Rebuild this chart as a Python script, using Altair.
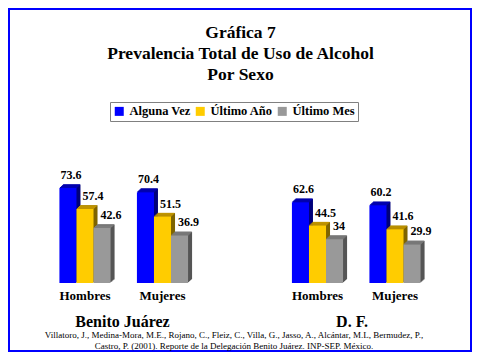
import altair as alt
import pandas as pd

# ---- data ----
regiones = ["Benito Juárez", "D. F."]
sexos = ["Hombres", "Mujeres"]
series = ["Alguna Vez", "Último Año", "Último Mes"]
bj_hombres = [73.6, 57.4, 42.6]
bj_mujeres = [70.4, 51.5, 36.9]
df_hombres = [62.6, 44.5, 34]
df_mujeres = [60.2, 41.6, 29.9]

titulo = ["Gráfica 7", "Prevalencia Total de Uso de Alcohol", "Por Sexo"]
cita = [
    "Villatoro, J., Medina-Mora, M.E., Rojano, C., Fleiz, C., Villa, G., Jasso, A., Alcántar, M.L, Bermudez, P.,",
    "Castro, P. (2001). Reporte de la Delegación Benito Juárez. INP-SEP. México.",
]

# ---- styles ----
frente = ["#0000FF", "#FFCC00", "#999999"]
tapa = ["#0000B4", "#C09400", "#7C7C7C"]
lateral = ["#00007A", "#7E6400", "#555555"]
FONT = "'Liberation Serif', 'Times New Roman', Times, serif"

valores = {
    (regiones[0], sexos[0]): bj_hombres,
    (regiones[0], sexos[1]): bj_mujeres,
    (regiones[1], sexos[0]): df_hombres,
    (regiones[1], sexos[1]): df_mujeres,
}
rows = []
for (reg, sx), vals in valores.items():
    for s, v in zip(series, vals):
        rows.append({"region": reg, "sexo": sx, "serie": s, "valor": v, "grupo": reg + "|" + sx})
data = pd.DataFrame(rows)

dominio_x = [regiones[0] + "|" + sexos[0], regiones[0] + "|" + sexos[1], " ",
             regiones[1] + "|" + sexos[0], regiones[1] + "|" + sexos[1]]

STEP = 77.5
GW = STEP * 0.66          # group width
BW = GW / 3               # bar width
X = alt.X("grupo:N", scale=alt.Scale(type="band", domain=dominio_x, range=[38.25, 38.25 + 5 * STEP],
                                      paddingInner=0.34, paddingOuter=0.17), axis=None)


def XO(shift=0.0):
    return alt.XOffset("serie:N", scale=alt.Scale(type="band", domain=series, range=[shift, GW + shift],
                                                   paddingInner=0, paddingOuter=0))


Y = alt.Y("valor:Q", scale=alt.Scale(domain=[0, 100], range=[275, 146], nice=False), axis=None)

DX, DY = 4.0, 3.6
base = alt.Chart(data)
layers = []

# side extrusion
for f in [0.25, 0.5, 0.75, 1.0]:
    layers.append(
        base.mark_bar(yOffset=-DY * f, y2Offset=-DY * f, strokeWidth=0)
        .encode(x=X, xOffset=XO(DX * f), y=Y,
                color=alt.Color("serie:N", scale=alt.Scale(domain=series, range=lateral), legend=None))
    )
# top cap
for f in [0.125, 0.375, 0.625, 0.875]:
    layers.append(
        base.mark_tick(yOffset=-DY * f, thickness=1.2, size=BW, opacity=1)
        .encode(x=X, xOffset=XO(DX * f), y=Y,
                color=alt.Color("serie:N", scale=alt.Scale(domain=series, range=tapa), legend=None))
    )
# front faces
layers.append(
    base.mark_bar(strokeWidth=0).encode(
        x=X, xOffset=XO(0), y=Y,
        color=alt.Color("serie:N", scale=alt.Scale(domain=series, range=frente),
                        legend=alt.Legend(title=None, orient="none", legendX=102, legendY=94,
                                          direction="horizontal", symbolType="square",
                                          symbolSize=81, symbolStrokeWidth=0,
                                          labelFont=FONT, labelFontSize=12.5, labelFontWeight="bold",
                                          labelColor="black", strokeColor="#808080",
                                          padding=3, columnPadding=3, labelOffset=4)),
    )
)
# value labels
for s, dx in zip(series, [-7.5, -2.5, -1.5]):
    layers.append(
        base.transform_filter(alt.datum.serie == s)
        .mark_text(align="left", baseline="alphabetic", dx=dx, dy=-9, font=FONT,
                   fontSize=12, fontWeight="bold", color="black")
        .encode(x=X, xOffset=XO(0), y=Y, text=alt.Text("valor:Q", format=".1~f"))
    )

# category labels
cats = pd.DataFrame([{"grupo": r + "|" + s, "sexo": s} for r in regiones for s in sexos])
layers.append(
    alt.Chart(cats).mark_text(align="center", baseline="alphabetic", font=FONT, fontSize=13,
                              fontWeight="bold", color="black")
    .encode(x=X, y=alt.value(292), text="sexo:N")
)

# region labels
for reg, xp in zip(regiones, [114.5, 344]):
    layers.append(
        alt.Chart(pd.DataFrame({"t": [reg]})).mark_text(
            align="center", baseline="alphabetic", font=FONT, fontSize=16,
            fontWeight="bold", color="black")
        .encode(x=alt.value(xp), y=alt.value(318.5), text="t:N")
    )

# title
layers.append(
    alt.Chart(pd.DataFrame({"t": [0]})).mark_text(
        text=titulo, lineHeight=21, align="center", baseline="alphabetic", font=FONT,
        fontSize=17.5, fontWeight="bold", color="black")
    .encode(x=alt.value(232.5), y=alt.value(30))
)

# citation
layers.append(
    alt.Chart(pd.DataFrame({"t": [0]})).mark_text(
        text=cita, lineHeight=11.5, align="center", baseline="alphabetic", font=FONT,
        fontSize=9, color="black")
    .encode(x=alt.value(226), y=alt.value(329.5))
)

chart = (
    alt.layer(*layers)
    .resolve_scale(color="independent", xOffset="independent")
    .properties(width=464, height=344, padding=0, autosize=alt.AutoSizeParams(type="none"),
                background="white")
    .configure_view(stroke="#0000FF", strokeWidth=4)
)

chart.save("out.html", embed_options={"renderer": "svg", "actions": False})
